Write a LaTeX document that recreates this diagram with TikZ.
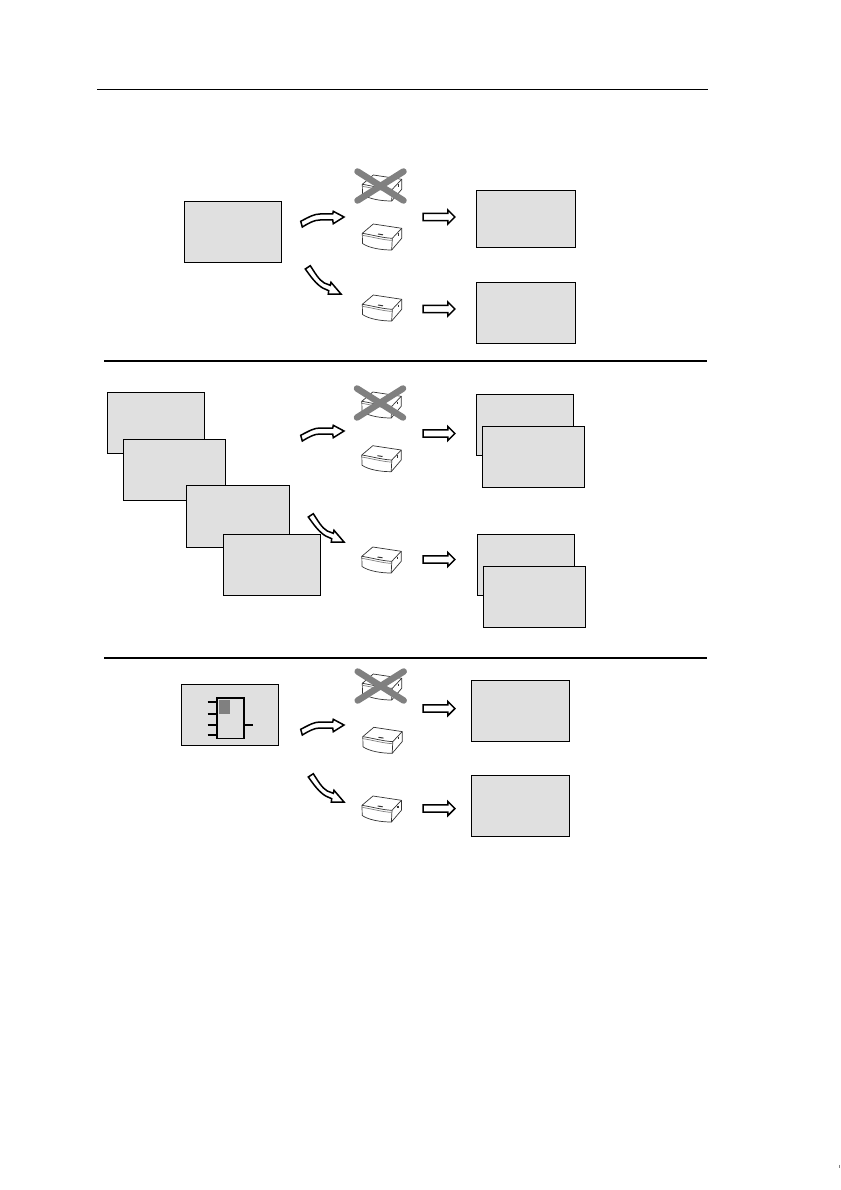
\documentclass[tikz,border=0pt]{standalone}
\usepackage{xcolor}
\usetikzlibrary{shapes.arrows}
\definecolor{panelgray}{HTML}{E0E0E0}
\definecolor{crossgray}{HTML}{808080}
\tikzset{
  panel/.style   ={draw,fill=panelgray,line width=1pt,inner sep=0pt,outer sep=0pt,minimum width=97pt,minimum height=61pt},
  rulebar/.style ={draw,line width=1.6pt},
  flow/.style    ={draw,fill=white,line width=1.5pt,single arrow,single arrow head extend=3.3pt,
                   single arrow head indent=0pt,minimum height=31.8pt,inner xsep=0pt,inner ysep=2.9pt,outer sep=0pt},
  curved/.style  ={draw,fill=white,line width=1.5pt,line join=miter},
  pin/.style     ={draw,line width=1.6pt},
  bendup/.pic={
    \path[curved] (-41.7,10) -- (-43.3,4.3) .. controls (-35,0) and (-30,-3) .. (-24,-3) -- (-11.3,-3)
      -- (-10.7,-5.7) -- (0,0) -- (-10.7,6.7) -- (-11.3,3) -- (-24,3) .. controls (-30,3) and (-35,6) .. cycle;
  },
  benddown/.pic={
    \path[curved] (-35.7,-25) -- (-30.7,-28.3) .. controls (-26,-21) and (-22,-14) .. (-16.7,-11) -- (-10.7,-8.7)
      -- (-10,-11.7) -- (0,0) -- (-12.7,0) -- (-12.3,-3.3) -- (-18.3,-6) .. controls (-25,-10) and (-30,-17) .. cycle;
  },
  module/.pic={
    \begin{scope}[draw=black!80,line width=.7pt,line join=round]
      \draw[fill=white] (-18.7,-3.7) -- (-7.7,-13) -- (20.7,-8.7) -- (20.7,1.3) -- (10.7,13)
        .. controls (0,13) and (-12,11) .. (-18.5,6.5) -- cycle;
      \draw (-18.7,-3.7) .. controls (-8,-2) and (2,1) .. (11.3,1.3) -- (20.7,-8.7);
      \draw (11.3,1.3) -- (10.7,13);
      \draw[black!50] (-18.3,-1.6) .. controls (-8,0) and (2,3) .. (11.2,3.4);
      \draw[line width=1pt] (-3,-3) -- (2,-2.2);
      \draw[line width=1.2pt] (17.2,-3.5) -- (17.2,-1);
    \end{scope}
  },
  crossout/.pic={
    \draw[crossgray,line width=6.5pt,line cap=round] (-23,-14.5) -- (23,14.5) (23,-14.5) -- (-23,14.5);
  },
}
\begin{document}
\begin{tikzpicture}[x=1pt,y=-1pt]
  \useasboundingbox (0,0) rectangle (840,1190);
  % separators
  \draw[line width=1pt] (97,90) -- (708,90);
  \path[rulebar] (104,361) -- (707,361);
  \path[rulebar] (104,658) -- (707,658);
  % first row
  \node [panel] (src1) at (233,232) {};
  \node [panel,minimum width=99pt,minimum height=57pt] (out1a) at (526,219) {};
  \node [panel,minimum width=99pt] (out1b) at (526,313) {};
  \pic at (381,188) {module};
  \pic at (380.5,186) {crossout};
  \pic at (381,237) {module};
  \pic at (381,308) {module};
  \pic at (344,217) {bendup};
  \pic at (341,294) {benddown};
  \node [flow] (flow1a) at (437.2,217) {};
  \node [flow] (flow1b) at (437.2,309) {};
  % second row
  \node [panel] (src2a) at (156,423) {};
  \node [panel,minimum width=102pt] (src2b) at (174.5,470) {};
  \node [panel,minimum width=103pt,minimum height=62pt] (src2c) at (238,516.5) {};
  \node [panel] (src2d) at (272,565) {};
  \node [panel] (out2a) at (525,425) {};
  \node [panel,minimum width=102pt] (out2b) at (533.5,457) {};
  \node [panel] (out2c) at (526,565) {};
  \node [panel,minimum width=102pt] (out2d) at (534.5,597) {};
  \pic at (380.5,405) {module};
  \pic at (380,403) {crossout};
  \pic at (380.5,458.7) {module};
  \pic at (380.5,560) {module};
  \pic at (344,431) {bendup};
  \pic at (344,542) {benddown};
  \node [flow] (flow2a) at (437.2,433.5) {};
  \node [flow] (flow2b) at (437.2,559.5) {};
  % third row
  \node [panel] (src3) at (230,715) {};
  \node [panel,minimum width=98pt] (out3a) at (520.5,711) {};
  \node [panel,minimum width=98pt] (out3b) at (520.5,806) {};
  \fill [crossgray] (219,700) rectangle (230,714);
  \draw [line width=1.6pt] (216.7,697.7) rectangle (244,738.3);
  \path [pin] (207.7,702) -- (216.7,702);
  \path [pin] (207.7,713.7) -- (216.7,713.7);
  \path [pin] (207.7,724.7) -- (216.7,724.7);
  \path [pin] (207.7,735) -- (216.7,735);
  \path [pin] (244,724.7) -- (252.7,724.7);
  \pic at (381,687) {module};
  \pic at (380.7,686) {crossout};
  \pic at (381.5,740.3) {module};
  \pic at (380.7,809) {module};
  \pic at (344,725) {bendup};
  \pic at (344,802) {benddown};
  \node [flow] (flow3a) at (437.2,708.5) {};
  \node [flow] (flow3b) at (437.2,808.5) {};
  % edge of the page
  \draw [gray] (839.5,1164.5) -- (839.5,1168);
\end{tikzpicture}
\end{document}
